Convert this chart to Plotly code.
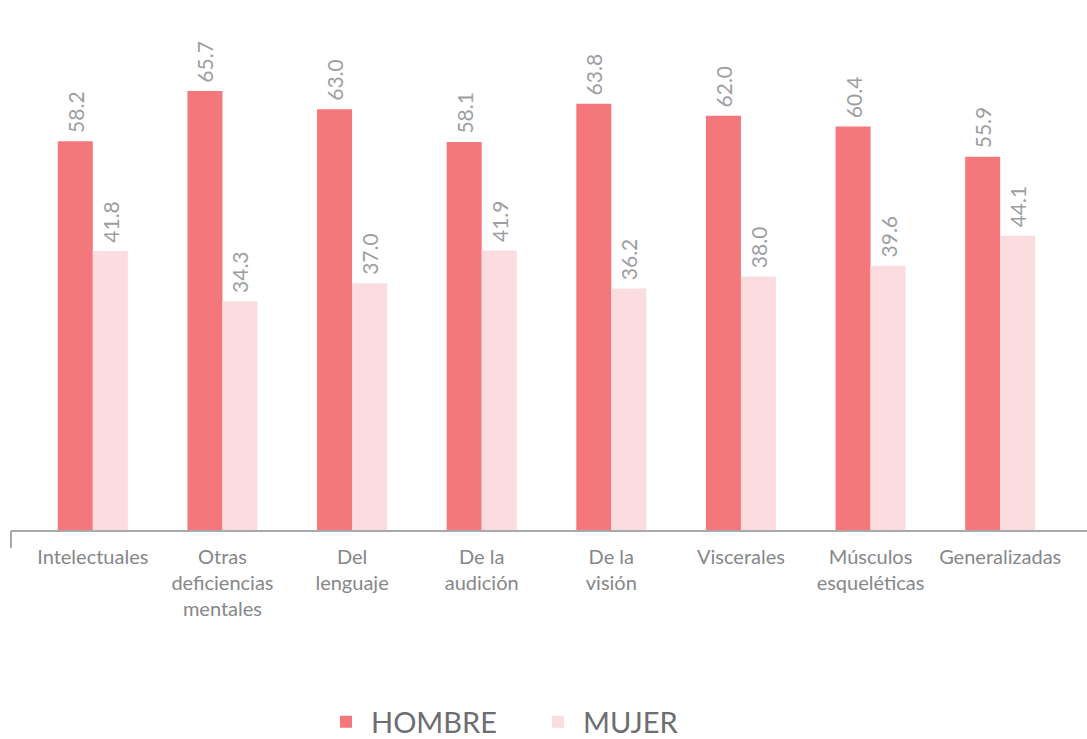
import plotly.graph_objects as go

categories = ["Intelectuales", "Otras<br>deficiencias<br>mentales", "Del<br>lenguaje",
              "De la<br>audición", "De la<br>visión", "Viscerales",
              "Músculos<br>esqueléticas", "Generalizadas"]
hombre = [58.2, 65.7, 63.0, 58.1, 63.8, 62.0, 60.4, 55.9]
mujer = [41.8, 34.3, 37.0, 41.9, 36.2, 38.0, 39.6, 44.1]

W, H = 1087, 739
ml, mr, mt, mb = 28, 22, 2, 208
pw = W - ml - mr
ph = H - mt - mb

label_font = dict(family="Lato", size=21, color="#9C9EA1")

fig = go.Figure()
fig.add_trace(go.Bar(
    name="HOMBRE", x=categories, y=hombre, marker_color="#F4777C",
    marker_line_width=0,
    text=[f"\u00a0{v:.1f}" for v in hombre], textposition="outside", textangle=-90,
    textfont=label_font, constraintext="none", cliponaxis=False))
fig.add_trace(go.Bar(
    name="MUJER", x=categories, y=mujer, marker_color="#FBDDE0",
    marker_line_width=0,
    text=[f"\u00a0{v:.1f}" for v in mujer], textposition="outside", textangle=-90,
    textfont=label_font, constraintext="none", cliponaxis=False))

fig.update_layout(
    width=W, height=H,
    margin=dict(l=ml, r=mr, t=mt, b=mb, autoexpand=False),
    paper_bgcolor="white", plot_bgcolor="white",
    barmode="group", bargap=0.46, bargroupgap=0,
    hovermode=False,
    showlegend=True,
    legend=dict(orientation="h", x=(321 - ml) / pw, xanchor="left",
                y=-(722 - (mt + ph)) / ph, yanchor="middle",
                font=dict(family="Lato", size=29, color="#6D6E71"),
                itemwidth=40, entrywidth=157, entrywidthmode="pixels", traceorder="normal"),
    xaxis=dict(showline=False, ticks="", showgrid=False, zeroline=False, automargin=False,
               ticklabelstandoff=12,
               tickfont=dict(family="Lato", size=20, color="#858789")),
    yaxis=dict(range=[0, 79], visible=False, showgrid=False, zeroline=False, automargin=False),
)

# extended baseline with left tick
x_left = (11 - ml) / pw
x_right = (W - ml) / pw
y_drop = -(548 - (mt + ph)) / ph
fig.add_shape(type="line", xref="paper", yref="paper", x0=x_left, x1=x_right, y0=0, y1=0,
              line=dict(color="#A7A9AC", width=2))
fig.add_shape(type="line", xref="paper", yref="paper", x0=x_left, x1=x_left, y0=0, y1=y_drop,
              line=dict(color="#A7A9AC", width=2))

fig.write_html("out.html", config={"displayModeBar": False},
               post_script="document.body.style.margin='0';")
